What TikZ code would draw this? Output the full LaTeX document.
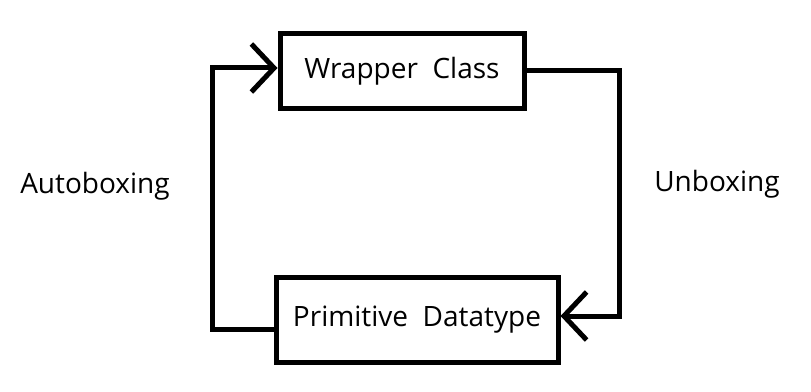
\documentclass[tikz,border=0pt]{standalone}
\usepackage{fontspec}
\setmainfont{Open Sans}
\usetikzlibrary{arrows.meta}

\begin{document}
\begin{tikzpicture}[
  x=0.75pt, y=-0.75pt,
  box/.style={draw=black, line width=3.75pt, align=center, font=\fontsize{21}{25}\selectfont, inner sep=0pt},
  label/.style={font=\fontsize{21}{25}\selectfont, inner sep=0pt},
  link/.style={draw=black, line width=3.75pt},
  arrow/.style={link, -{Straight Barb[length=17pt, width=36pt, line width=3.75pt, line cap=butt]}}
]
  \useasboundingbox (0,0) rectangle (811,392);

  % boxes
  \node[box, minimum width=244*0.75pt, minimum height=75*0.75pt] (wrapper) at (402,71) {Wrapper\ \ Class};
  \node[box, minimum width=282*0.75pt, minimum height=85*0.75pt] (prim) at (417,320) {Primitive\ \ Datatype};

  % labels
  \node[label] (auto) at (95,186) {Autoboxing};
  \node[label] (unbox) at (717,184) {Unboxing};

  % corners
  \coordinate (ul) at (212,68);
  \coordinate (ll) at (212,329);
  \coordinate (ur) at (619,71);
  \coordinate (lr) at (619,316);

  % Autoboxing (left)
  \draw[arrow] (prim.west |- ll) -- (ll) -- (ul) -- (ul -| wrapper.west);

  % Unboxing (right)
  \draw[arrow] (wrapper.east) -- (ur) -- (lr) -- (lr -| prim.east);

\end{tikzpicture}
\end{document}
